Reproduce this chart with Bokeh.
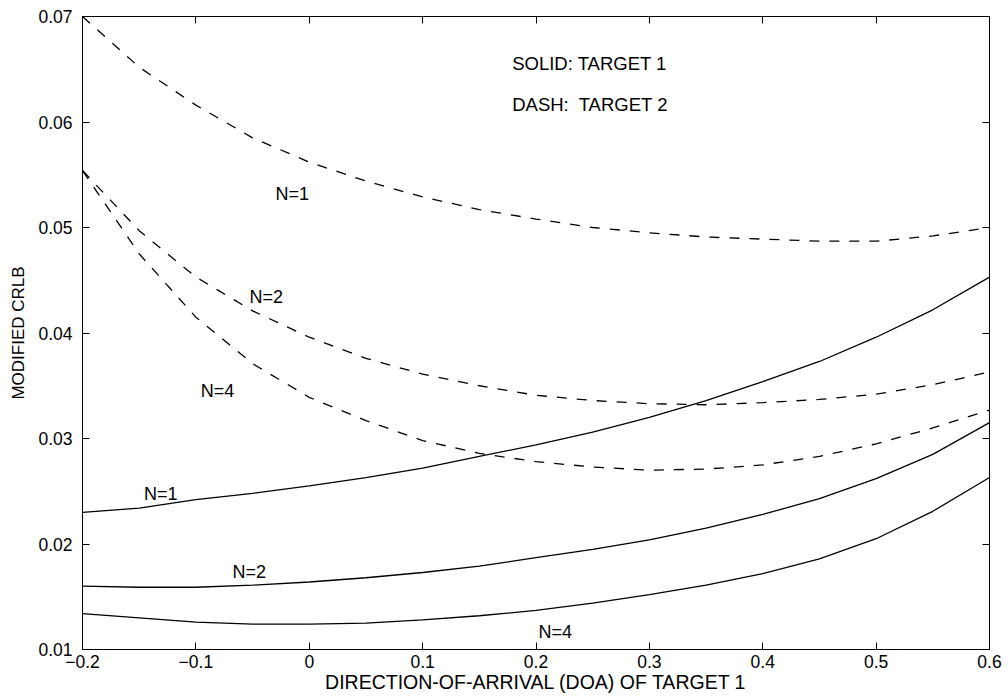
from bokeh.plotting import figure
from bokeh.models import (Range1d, LinearAxis, FixedTicker, ColumnDataSource,
                          CustomJSTickFormatter)
from bokeh.core.properties import value
from bokeh.embed import file_html
from bokeh.resources import INLINE

# Direction of arrival of target 1
doa = [-0.20, -0.15, -0.10, -0.05, 0.00, 0.05, 0.10, 0.15, 0.20,
       0.25, 0.30, 0.35, 0.40, 0.45, 0.50, 0.55, 0.60]

# Modified CRLB, target 1 (solid curves)
t1_n1 = [0.0230, 0.0234, 0.0242, 0.0248, 0.0255, 0.0263, 0.0272, 0.0283, 0.0294,
         0.0306, 0.0320, 0.0336, 0.0354, 0.0373, 0.0396, 0.0422, 0.0453]
t1_n2 = [0.0160, 0.0159, 0.0159, 0.0161, 0.0164, 0.0168, 0.0173, 0.0179, 0.0187,
         0.0195, 0.0204, 0.0215, 0.0228, 0.0243, 0.0262, 0.0285, 0.0315]
t1_n4 = [0.0134, 0.0130, 0.0126, 0.0124, 0.0124, 0.0125, 0.0128, 0.0132, 0.0137,
         0.0144, 0.0152, 0.0161, 0.0172, 0.0186, 0.0205, 0.0231, 0.0263]

# Modified CRLB, target 2 (dashed curves)
t2_n1 = [0.0700, 0.0652, 0.0616, 0.0585, 0.0562, 0.0544, 0.0529, 0.0517, 0.0508,
         0.0500, 0.0495, 0.0491, 0.0489, 0.0487, 0.0487, 0.0492, 0.0500]
t2_n2 = [0.0554, 0.0497, 0.0453, 0.0421, 0.0396, 0.0376, 0.0361, 0.0350, 0.0341,
         0.0336, 0.0333, 0.0332, 0.0334, 0.0337, 0.0342, 0.0351, 0.0363]
t2_n4 = [0.0554, 0.0475, 0.0415, 0.0371, 0.0339, 0.0317, 0.0298, 0.0286, 0.0278,
         0.0273, 0.0270, 0.0271, 0.0275, 0.0283, 0.0295, 0.0310, 0.0327]

# Curve labels
label_x = [-0.015, -0.038, -0.081, -0.131, -0.053, 0.217]
label_y = [0.0532, 0.0434, 0.0345, 0.0247, 0.0173, 0.0117]
label_text = ["N=1", "N=2", "N=4", "N=1", "N=2", "N=4"]

# Line-style key
key_x = [0.179, 0.179]
key_y = [0.0655, 0.0617]
key_text = ["SOLID: TARGET 1", "DASH:\u00a0 TARGET 2"]

x_ticks = [-0.2, -0.1, 0, 0.1, 0.2, 0.3, 0.4, 0.5, 0.6]
y_ticks = [0.01, 0.02, 0.03, 0.04, 0.05, 0.06, 0.07]

FONT = "Liberation Sans"

p = figure(frame_width=907, frame_height=633,
           x_range=Range1d(-0.2, 0.6), y_range=Range1d(0.01, 0.07),
           output_backend="svg", toolbar_location=None,
           min_border_left=82, min_border_right=19,
           min_border_top=16, min_border_bottom=49)
p.xgrid.visible = False
p.ygrid.visible = False
p.outline_line_color = "black"
p.outline_line_width = 1
p.background_fill_color = "white"
p.border_fill_color = "white"

bottom = p.below[0]
left = p.left[0]

for ys in (t1_n1, t1_n2, t1_n4):
    p.line(doa, ys, line_color="black", line_width=1.3)
for ys in (t2_n1, t2_n2, t2_n4):
    p.line(doa, ys, line_color="black", line_width=1.3, line_dash="10 10")

p.text(x="x", y="y", text="text",
       source=ColumnDataSource(dict(x=label_x, y=label_y, text=label_text)),
       text_font=value(FONT), text_font_size="18px", text_color="black",
       text_align="center", text_baseline="middle")
p.text(x="x", y="y", text="text",
       source=ColumnDataSource(dict(x=key_x, y=key_y, text=key_text)),
       text_font=value(FONT), text_font_size="18.5px", text_color="black",
       text_align="left", text_baseline="middle")

# Box axes: ticks point into the plot on all four sides
top = LinearAxis()
right = LinearAxis()
p.add_layout(top, "above")
p.add_layout(right, "right")

blank = CustomJSTickFormatter(code="return ''")
for ax, ticks in ((bottom, x_ticks), (top, x_ticks),
                  (left, y_ticks), (right, y_ticks)):
    ax.ticker = FixedTicker(ticks=ticks)
    ax.major_tick_in = 7
    ax.major_tick_out = 0
    ax.minor_tick_line_color = None
    ax.axis_line_color = "black"
    ax.major_tick_line_color = "black"
    ax.major_label_text_font = FONT
    ax.major_label_text_font_size = "17.5px"
    ax.major_label_text_color = "black"

for ax in (top, right):
    ax.formatter = blank
    ax.major_label_standoff = 0

bottom.major_label_overrides = {-0.2: "\u22120.2", -0.1: "\u22120.1"}
bottom.major_label_standoff = 5
left.major_label_standoff = 10

bottom.axis_label = "DIRECTION-OF-ARRIVAL (DOA) OF TARGET 1"
left.axis_label = "MODIFIED CRLB"
for ax in (bottom, left):
    ax.axis_label_text_font = FONT
    ax.axis_label_text_font_style = "normal"
    ax.axis_label_text_color = "black"
bottom.axis_label_standoff = 0
left.axis_label_standoff = 7
bottom.axis_label_text_font_size = "19.5px"
left.axis_label_text_font_size = "17px"

open("out.html", "w").write(file_html(p, INLINE))
